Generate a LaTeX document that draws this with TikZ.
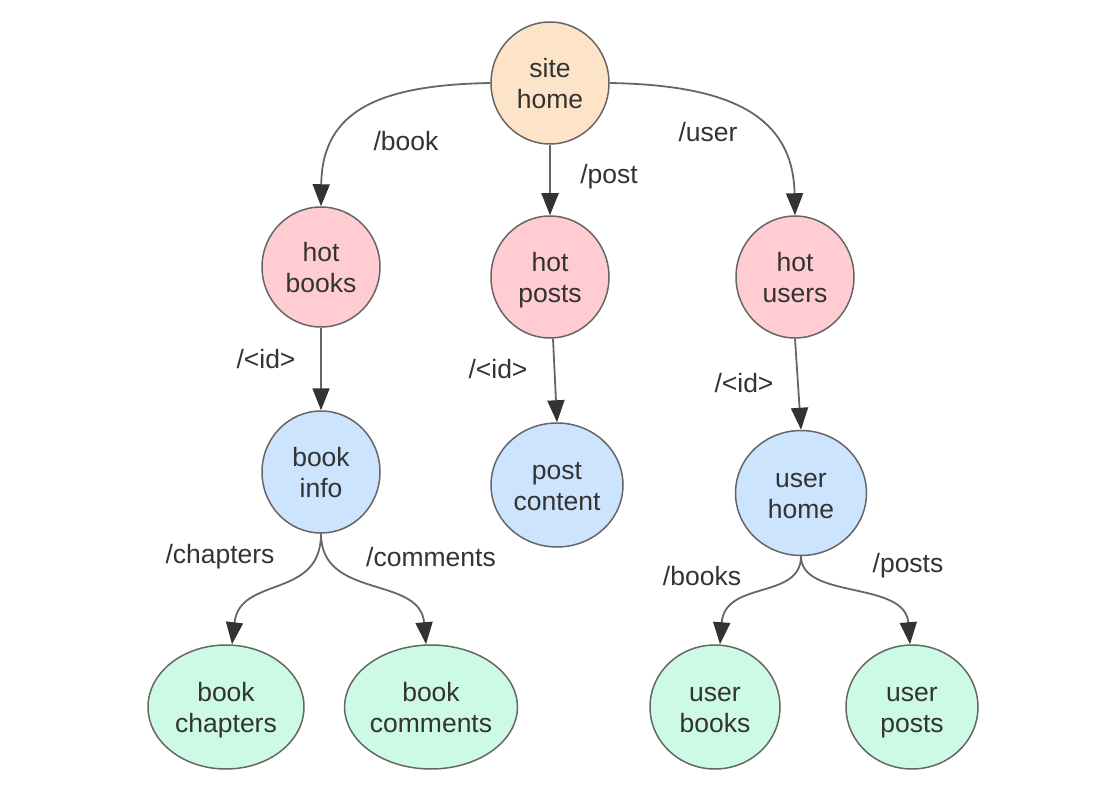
\documentclass[tikz,border=0pt]{standalone}
\usepackage{fontspec}
\setmainfont{Liberation Sans}
\usetikzlibrary{arrows.meta,shapes.geometric}
\definecolor{peach}{HTML}{FDE4C9}
\definecolor{pinkc}{HTML}{FFCDD1}
\definecolor{bluec}{HTML}{CDE4FE}
\definecolor{greenc}{HTML}{CCFAE4}
\definecolor{edgec}{HTML}{666666}
\definecolor{tipc}{HTML}{333333}
\definecolor{textc}{HTML}{333333}
\newcommand\lnstrut{\rule[-5.5pt]{0pt}{31pt}}
\tikzset{
  nd/.style={ellipse,draw=edgec,line width=1.5pt,inner sep=0pt,align=center,
    font=\fontsize{26.5}{31}\selectfont,text=textc},
  lbl/.style={font=\fontsize{26.5}{30}\selectfont,text=textc},
  conn/.style={draw=edgec,line width=1.8pt,-{Triangle[length=22pt,width=17pt,color=tipc,fill=tipc]}}
}
\begin{document}
\begin{tikzpicture}[x=1pt,y=-1pt]
\useasboundingbox (0,0) rectangle (1114,810);
\fill[white] (0,0) rectangle (1114,810);
\node[nd,fill=peach,minimum width=118pt,minimum height=122pt] (site) at (550,83) {\lnstrut site\\\lnstrut home};
\node[nd,fill=pinkc,minimum width=118pt,minimum height=120pt] (hb) at (321,267) {\lnstrut hot\\\lnstrut books};
\node[nd,fill=pinkc,minimum width=118pt,minimum height=122pt] (hp) at (550,277) {\lnstrut hot\\\lnstrut posts};
\node[nd,fill=pinkc,minimum width=118pt,minimum height=122pt] (hu) at (795,277) {\lnstrut hot\\\lnstrut users};
\node[nd,fill=bluec,minimum width=118pt,minimum height=122pt] (bi) at (321,472) {\lnstrut book\\\lnstrut info};
\node[nd,fill=bluec,minimum width=132pt,minimum height=124pt] (pc) at (557,485) {\lnstrut post\\\lnstrut content};
\node[nd,fill=bluec,minimum width=131pt,minimum height=125pt] (uh) at (801,493) {\lnstrut user\\\lnstrut home};
\node[nd,fill=greenc,minimum width=156pt,minimum height=124pt] (bc) at (226,707) {\lnstrut book\\\lnstrut chapters};
\node[nd,fill=greenc,minimum width=166pt,minimum height=124pt] (bm) at (431,707) {\lnstrut book\\\lnstrut comments};
\node[nd,fill=greenc,minimum width=130pt,minimum height=124pt] (ub) at (715,707) {\lnstrut user\\\lnstrut books};
\node[nd,fill=greenc,minimum width=132pt,minimum height=124pt] (up) at (912,707) {\lnstrut user\\\lnstrut posts};

\draw[conn] (site.west) .. controls (380,85) and (322,110) .. (hb.north);
\draw[conn] (site.east) .. controls (720,85) and (793,110) .. (hu.north);
\draw[conn] (site.south) -- (hp.north);
\draw[conn] (hb.south) -- (bi.north);
\draw[conn] (hp.south -| 553,0) -- (pc.north);
\draw[conn] (hu.south) -- (uh.north);
\draw[conn] (bi.south) .. controls (321,600) and (240,575) .. (bc.north -| 232,0);
\draw[conn] (bi.south) .. controls (321,600) and (420,575) .. (bm.north -| 426,0);
\draw[conn] (uh.south) .. controls (801,600) and (725,580) .. (ub.north -| 720,0);
\draw[conn] (uh.south) .. controls (801,600) and (905,580) .. (up.north -| 910,0);

\node[lbl] (l1) at (406,141) {/book};
\node[lbl] (l2) at (609,177) {/post};
\node[lbl] (l3) at (708,132) {/user};
\node[lbl] (l4) at (266,359) {/<id>};
\node[lbl] (l5) at (498,369) {/<id>};
\node[lbl] (l6) at (744,383) {/<id>};
\node[lbl] (l7) at (220,557) {/chapters};
\node[lbl] (l8) at (431,557) {/comments};
\node[lbl] (l9) at (702,576) {/books};
\node[lbl] (l10) at (908,566) {/posts};
\end{tikzpicture}
\end{document}
